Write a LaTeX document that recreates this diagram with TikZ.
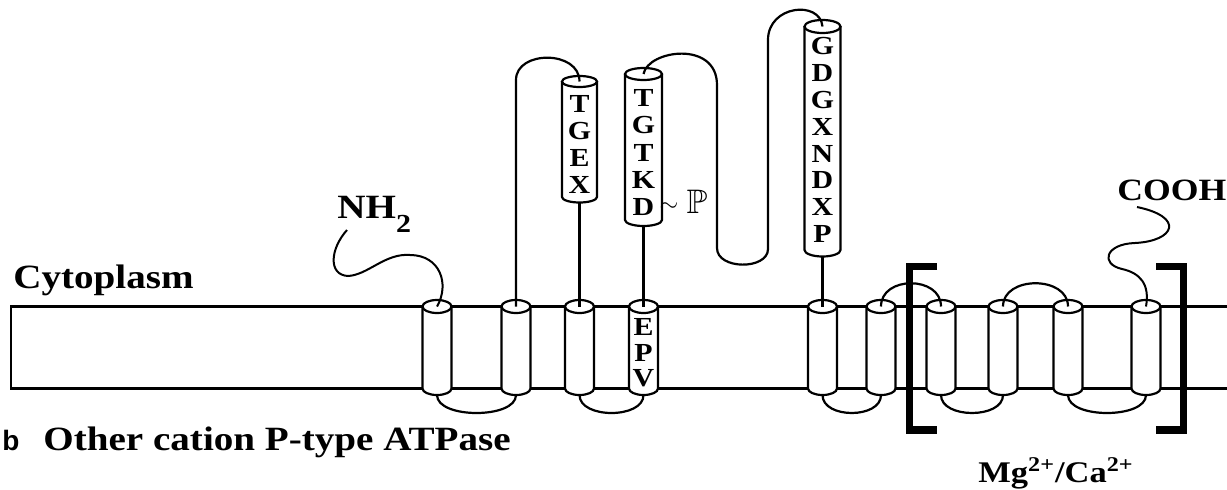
\documentclass[tikz,border=0pt]{standalone}
\usepackage{amssymb}
\usepackage{fontspec}
\setmainfont{Liberation Serif}[FakeStretch=1.15]
\newfontfamily\sansb{Liberation Sans}
\usepackage{tikz}
\usetikzlibrary{calc}
\tikzset{res/.style={font=\fontsize{13}{13}\selectfont\bfseries, inner sep=0pt}}
\tikzset{lbl/.style={font=\fontsize{17}{17}\selectfont\bfseries, inner sep=0pt}}
\tikzset{strand/.style={black, line width=1.1pt}}
\tikzset{tail/.style={black, line width=1pt}}
\tikzset{bracket/.style={black, line width=3.6pt}}
\newcommand{\tube}[6]{%
\filldraw[strand, fill=white] (#2-#5,#3) -- (#2-#5,#4) arc[start angle=180, end angle=360, x radius=#5, y radius=#6] -- (#2+#5,#3);
\filldraw[strand, fill=white] (#2,#3) ellipse[x radius=#5, y radius=#6];
\coordinate (#1-t) at (#2,#3);
\coordinate (#1-b) at (#2,#4-#6);
}

\begin{document}
\begin{tikzpicture}[x=0.5pt, y=0.5pt]
\useasboundingbox (0,0) rectangle (1227,489);
\draw[strand] (1227,182.5) -- (11,182.5) -- (11,100.5) -- (1227,100.5);
\foreach \x [count=\i] in {437,516,579.5,643.5,822.5,881,941,1003,1068,1146} {
\tube{m\i}{\x}{182.5}{100.5}{14.5}{6.5}
}
\tube{tgex}{579.5}{407.5}{292}{17.5}{5.5}
\tube{tgtkd}{643.5}{415}{269}{18.5}{6}
\tube{gdg}{822.5}{462.5}{239}{18}{6.5}
\foreach \a/\b in {1/2,3/4,5/6,7/8,9/10} {
\draw[strand] (m\a-b) .. controls ($(m\a-b)+(0,-24)$) and ($(m\b-b)+(0,-24)$) .. (m\b-b);
}
\foreach \a/\b in {6/7,8/9} {
\draw[strand] (m\a-t) .. controls ($(m\a-t)+(0,31)$) and ($(m\b-t)+(0,31)$) .. (m\b-t);
}
\draw[strand] (tgex-b) -- (m3-t);
\draw[strand] (tgtkd-b) -- (m4-t);
\draw[strand] (gdg-b) -- (m5-t);
\draw[strand] (m2-t) -- (516,409) .. controls (516,439) and (579.5,439) .. (tgex-t);
\draw[strand] (tgtkd-t) .. controls (648,439) and (717,449) .. (717,404) -- (717,241)
  .. controls (717,219) and (768,219) .. (768,240) -- (768,449)
  .. controls (768,484) and (820,489) .. (gdg-t);
\draw[tail] (m1-t) .. controls (450,205) and (440,234) .. (410,234) .. controls (385,236) and (368,214) .. (348,213)
  .. controls (328,214) and (330,240) .. (347,259);
\draw[tail] (m10-t) .. controls (1150,205) and (1140,216) .. (1122,220) .. controls (1100,225) and (1105,245) .. (1135,246)
  .. controls (1175,248) and (1185,272) .. (1137,282);
\foreach \l [count=\i] in {T,G,E,X} \node[res] (tgex\i) at (579.5,412-27*\i) {\l};
\foreach \l [count=\i] in {T,G,T,K,D} \node[res] (tgtkd\i) at (643.5,418.25-27.25*\i) {\l};
\foreach \l [count=\i] in {G,D,G,X,N,D,X,P} \node[res] (gdg\i) at (822.5,469.9-26.9*\i) {\l};
\foreach \l [count=\i] in {E,P,V} \node[res] (epv\i) at (643.5,187.5-25.5*\i) {\l};
\node[inner sep=0pt, font=\fontsize{13}{13}\selectfont] (wave) at (669,282) {$\sim$};
\node[inner sep=0pt, font=\fontsize{17}{17}\selectfont] (phos) at (697,287) {$\mathbb{P}$};
\node[lbl, anchor=base west] (nh) at (337,271) {NH\raisebox{-7pt}{\fontsize{13}{13}\selectfont 2}};
\node[anchor=base west, inner sep=0pt, font=\fontsize{15.5}{15.5}\selectfont\bfseries] (cooh) at (1117,289) {COOH};
\node[lbl, anchor=base west] (cyto) at (13,201) {Cytoplasm};
\node[anchor=base west, inner sep=0pt, font=\sansb\fontsize{14}{14}\selectfont\bfseries] (panel) at (2,39) {b};
\node[lbl, anchor=base west] (title) at (43,39) {Other cation P-type ATPase};
\node[anchor=base west, inner sep=0pt, font=\fontsize{15}{15}\selectfont\bfseries] (ion) at (978,7) {Mg\textsuperscript{2+}/Ca\textsuperscript{2+}};
\draw[bracket] (937,222.5) -- (909.5,222.5) -- (909.5,59) -- (937,59);
\draw[bracket] (1156,222.5) -- (1183.5,222.5) -- (1183.5,59) -- (1156,59);
\end{tikzpicture}
\end{document}
